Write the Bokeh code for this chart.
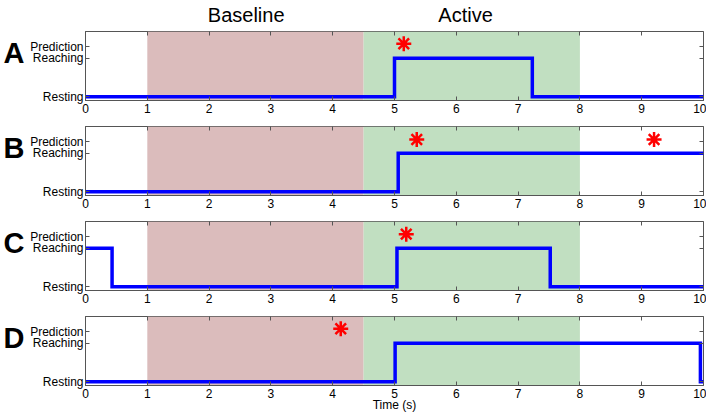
from bokeh.plotting import figure
from bokeh.models import BoxAnnotation, LinearAxis, FixedTicker, Range1d
from bokeh.layouts import column
from bokeh.embed import file_html
from bokeh.resources import INLINE

# ---- data ----
x_ticks = list(range(0, 11))
y_tick_values = [0, 1, 1.3]
y_tick_labels = ["Resting", "Reaching", "Prediction"]
panel_letters = ["A", "B", "C", "D"]
letter_y = 1.15
phase_names = ["Baseline", "Active"]
phase_centers = [2.6, 6.15]
phase_bounds = [(1.0, 4.5), (4.5, 8.0)]

A_t = [0, 5.0, 7.23, 10]
A_state = [0, 1, 0, 0]
B_t = [0, 5.06, 10]
B_state = [0, 1, 1]
C_t = [0, 0.43, 5.04, 7.52, 10]
C_state = [1, 0, 1, 0, 0]
D_t = [0, 5.01, 9.95, 10]
D_state = [0, 1, 0, 0]

A_star_t = [5.15]
A_star_y = [1.38]
B_star_t = [5.36, 9.2]
B_star_y = [1.36, 1.36]
C_star_t = [5.19]
C_star_y = [1.37]
D_star_t = [4.13]
D_star_y = [1.38]

# ---- style ----
FRAME = "#555555"
PHASE_COLORS = ["#dbbcbc", "#c1dfc1"]
BLUE = "#0000ff"
FONT = "Liberation Sans"


def make_panel(letter, t, s, st, sy, top, bottom, first=False, last=False):
    p = figure(frame_width=618, frame_height=69,
               x_range=Range1d(0, 10), y_range=Range1d(-0.1, 1.7),
               output_backend="svg", toolbar_location=None,
               min_border_left=85, min_border_right=3,
               min_border_top=top, min_border_bottom=bottom)
    p.grid.visible = False
    p.outline_line_color = FRAME
    p.background_fill_color = "white"
    for (l, r), c in zip(phase_bounds, PHASE_COLORS):
        p.add_layout(BoxAnnotation(left=l, right=r, fill_color=c, fill_alpha=1.0,
                                   line_color=None, level="underlay"))

    xb = p.below[0]
    xb.ticker = FixedTicker(ticks=x_ticks)
    xb.major_tick_in = 4
    xb.major_tick_out = 0
    xb.minor_tick_line_color = None
    xb.axis_line_color = FRAME
    xb.major_tick_line_color = FRAME
    xb.major_label_text_font = FONT
    xb.major_label_text_font_size = "12px"
    xb.major_label_text_color = "black"
    xb.major_label_standoff = 3

    yl = p.left[0]
    yl.ticker = FixedTicker(ticks=y_tick_values)
    yl.major_label_overrides = {v: lab for v, lab in zip(y_tick_values, y_tick_labels)}
    yl.major_tick_in = 4
    yl.major_tick_out = 0
    yl.minor_tick_line_color = None
    yl.axis_line_color = FRAME
    yl.major_tick_line_color = FRAME
    yl.major_label_text_font = FONT
    yl.major_label_text_font_size = "12px"
    yl.major_label_text_color = "black"
    yl.major_label_standoff = 2

    # panel letter as the single label of an outer left axis
    letter_ax = LinearAxis(ticker=FixedTicker(ticks=[letter_y]),
                           major_label_overrides={letter_y: letter},
                           major_label_text_font=FONT, major_label_text_font_size="29px",
                           major_label_text_font_style="bold", major_label_text_color="black",
                           major_label_standoff=3, major_tick_in=0, major_tick_out=0,
                           axis_line_color=None, major_tick_line_color=None,
                           minor_tick_line_color=None)
    p.add_layout(letter_ax, "left")

    # tick-only axes on top and right (MATLAB box ticks)
    top_ax = LinearAxis(ticker=FixedTicker(ticks=x_ticks), major_label_text_font_size="0px",
                        major_label_text_color=None,
                        major_tick_in=4, major_tick_out=0, minor_tick_line_color=None,
                        major_label_standoff=0, axis_line_color=None,
                        major_tick_line_color=FRAME)
    p.add_layout(top_ax, "above")
    right_ax = LinearAxis(ticker=FixedTicker(ticks=y_tick_values), major_label_text_font_size="0px",
                          major_label_text_color=None,
                          major_tick_in=4, major_tick_out=0, minor_tick_line_color=None,
                          major_label_standoff=0, axis_line_color=None,
                          major_tick_line_color=FRAME)
    p.add_layout(right_ax, "right")

    if first:
        title_ax = LinearAxis(ticker=FixedTicker(ticks=phase_centers),
                              major_label_overrides={c: n for c, n in zip(phase_centers, phase_names)},
                              major_label_text_font=FONT, major_label_text_font_size="20px",
                              major_label_text_color="black", major_label_standoff=6,
                              major_tick_in=0, major_tick_out=0, axis_line_color=None,
                              major_tick_line_color=None, minor_tick_line_color=None)
        p.add_layout(title_ax, "above")

    p.step(t, s, mode="after", line_color=BLUE, line_width=3.5, line_join="miter")
    p.scatter(st, sy, marker="asterisk", size=15, line_color="red", line_width=2.5)

    if last:
        xb.axis_label = "Time (s)"
        xb.axis_label_text_font = FONT
        xb.axis_label_text_font_size = "12px"
        xb.axis_label_text_font_style = "normal"
        xb.axis_label_text_color = "black"
        xb.axis_label_standoff = -3
    return p


pA = make_panel(panel_letters[0], A_t, A_state, A_star_t, A_star_y, 30, 20, first=True)
pB = make_panel(panel_letters[1], B_t, B_state, B_star_t, B_star_y, 6, 20)
pC = make_panel(panel_letters[2], C_t, C_state, C_star_t, C_star_y, 6, 20)
pD = make_panel(panel_letters[3], D_t, D_state, D_star_t, D_star_y, 6, 28, last=True)

layout = column(pA, pB, pC, pD, spacing=0)
open("out.html", "w").write(file_html(layout, INLINE))
